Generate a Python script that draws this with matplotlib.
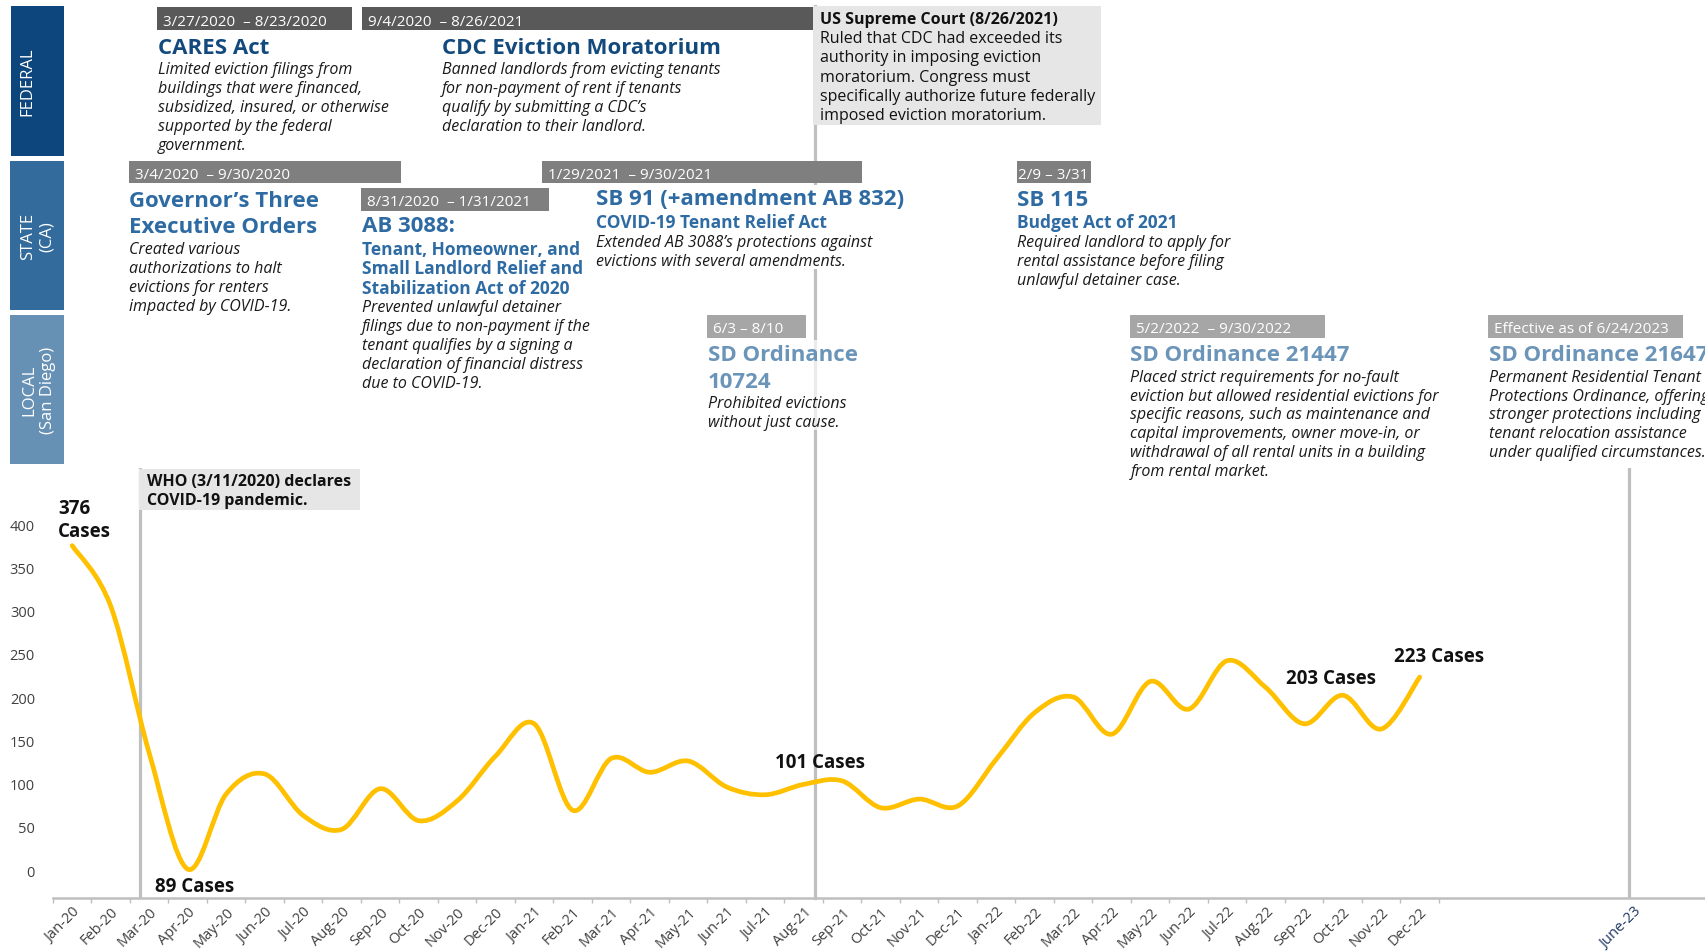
import numpy as np
import matplotlib.pyplot as plt
from matplotlib.path import Path
from matplotlib.patches import PathPatch, Rectangle
from matplotlib.transforms import offset_copy

plt.rcParams['font.family'] = ['Open Sans', 'DejaVu Sans']

# --- data -----------------------------------------------------------------
months = ['Jan-20', 'Feb-20', 'Mar-20', 'Apr-20', 'May-20', 'Jun-20',
          'Jul-20', 'Aug-20', 'Sep-20', 'Oct-20', 'Nov-20', 'Dec-20',
          'Jan-21', 'Feb-21', 'Mar-21', 'Apr-21', 'May-21', 'Jun-21',
          'Jul-21', 'Aug-21', 'Sep-21', 'Oct-21', 'Nov-21', 'Dec-21',
          'Jan-22', 'Feb-22', 'Mar-22', 'Apr-22', 'May-22', 'Jun-22',
          'Jul-22', 'Aug-22', 'Sep-22', 'Oct-22', 'Nov-22', 'Dec-22']
cases = [375, 305, 135, 1, 88, 111, 63, 47, 94, 57, 80, 132,
         169, 69, 129, 113, 126, 96, 87, 99, 103, 72, 82, 74,
         128, 182, 200, 157, 218, 186, 242, 211, 169, 202, 163, 223]
yticks = [0, 50, 100, 150, 200, 250, 300, 350, 400]

# event positions on the month axis (month index, Jan-20 = 0)
who_pos = 1.75        # 3/11/2020
scotus_pos = 19.28    # 8/26/2021
jun23_pos = 40.43     # 6/2023 ordinance
jun23_label = 'June-23'
jun23_label_pos = 40.55

callout_text = ['376\nCases', '89 Cases', '101 Cases', '203 Cases', '223 Cases']
callout_x = [-0.37, 2.15, 18.26, 31.52, 34.34]
callout_y = [386, -24, 119, 216, 242]

W, H = 1705, 953
fig = plt.figure(figsize=(W / 100, H / 100), dpi=100)

# --- chart ------------------------------------------------------------------
ax_top, ax_bot, ax_left = 469.3, 899.3, 53
ax = fig.add_axes([ax_left / W, 1 - ax_bot / H, 1 - ax_left / W,
                   (ax_bot - ax_top) / H])
ax.set_facecolor('none')
ax.set_zorder(1)
ax.set_xlim(-0.5, 42.41)
ax.set_ylim(-32.7, 464.4)

x = np.arange(len(cases))
pts = np.column_stack([x, cases]).astype(float)
verts, codes = [pts[0]], [Path.MOVETO]
n = len(pts)
for i in range(n - 1):
    p0, p1 = pts[max(i - 1, 0)], pts[i]
    p2, p3 = pts[i + 1], pts[min(i + 2, n - 1)]
    verts += [p1 + (p2 - p0) / 6, p2 - (p3 - p1) / 6, p2]
    codes += [Path.CURVE4] * 3
ax.add_patch(PathPatch(Path(verts, codes), fill=False, edgecolor='#ffc000',
                       lw=3.4, capstyle='round', joinstyle='round', zorder=3))

gray = '#bfbfbf'
ax.axvline(who_pos, 0, 1, color=gray, lw=2.3, zorder=2)
ax.axvline(jun23_pos, 0, 1, color=gray, lw=2.3, zorder=2)
ax.axvline(scotus_pos, 0, (ax_bot - 6.7) / (ax_bot - ax_top), color=gray,
           lw=2.3, zorder=2, clip_on=False)

for txt, cx, cy in zip(callout_text, callout_x, callout_y):
    lines = txt.split('\n')
    for j, line in enumerate(lines):
        tr = offset_copy(ax.transData, fig=fig, y=22.7 * (len(lines) - 1 - j),
                         units='dots')
        ax.text(cx, cy, line, transform=tr, fontsize=13.5, fontweight='bold',
                color='#111111', va='baseline', ha='left', zorder=4)

for s in ['left', 'top', 'right']:
    ax.spines[s].set_visible(False)
ax.spines['bottom'].set_color(gray)
ax.spines['bottom'].set_linewidth(1.8)

ax.set_yticks(yticks)
ax.tick_params(axis='y', length=0, pad=13, labelsize=10.5, labelcolor='#404040')
ax.set_xticks(np.arange(-0.5, len(months), 1))
ax.tick_params(axis='x', which='major', length=3.4, width=1, color=gray,
               labelbottom=False)
ax.set_xticks(list(x) + [jun23_label_pos], months + [jun23_label], minor=True)
ax.tick_params(axis='x', which='minor', length=0, pad=4, labelsize=10.5,
               labelcolor='#404040')
for lbl in ax.get_xticklabels(minor=True):
    lbl.set_rotation(45)
    lbl.set_ha('right')
    lbl.set_rotation_mode('anchor')
ax.get_xticklabels(minor=True)[-1].set_color('#1f3864')

# --- policy panels (pixel layout overlay) ----------------------------------
ov = fig.add_axes([0, 0, 1, 1])
ov.set_xlim(0, W)
ov.set_ylim(H, 0)
ov.axis('off')
ov.set_zorder(3)

fed_c, state_c, local_c = '#134a7e', '#2e6ba3', '#6b94b9'
desc_c = '#1a1a1a'


def rect(x0, y0, x1, y1, color, alpha=1.0):
    ov.add_patch(Rectangle((x0, y0), x1 - x0, y1 - y0, facecolor=color,
                           edgecolor='none', alpha=alpha, zorder=1))


def block(x0, y0, text, size, color=desc_c, weight='normal', style='normal',
          step=19.1):
    for i, line in enumerate(text.split('\n')):
        ov.text(x0, y0 + i * step, line, fontsize=size, color=color,
                fontweight=weight, fontstyle=style, va='baseline', ha='left',
                zorder=3)


def bar(x0, x1, y0, y1, label, color, tx=None):
    rect(x0, y0, x1, y1, color)
    ov.text(x0 + 6 if tx is None else tx, y1 - 5.2, label, fontsize=11,
            color='white', va='baseline', ha='left', zorder=3)


# level banners
rect(11, 6.7, 64, 156.7, '#0d457d')
rect(10, 162.3, 64, 310.7, '#336b9c')
rect(10, 316.2, 64, 464.5, '#6790b5')
ov.text(27.5, 81.7, 'FEDERAL', rotation=90, ha='center', va='center',
        color='white', fontsize=12)
ov.text(37.5, 236.5, 'STATE\n(CA)', rotation=90, ha='center', va='center',
        multialignment='center', color='white', fontsize=12)
ov.text(38.5, 390, 'LOCAL\n(San Diego)', rotation=90, ha='center',
        va='center', multialignment='center', color='white', fontsize=12)

# masks where the Supreme Court line passes behind text
rect(800, 186, 830, 270, 'white')
rect(800, 341, 830, 431, 'white', alpha=0.7)

# federal
bar(157, 352, 8.3, 30.7, '3/27/2020  \u2013 8/23/2020', '#595959')
bar(362, 812.7, 8.3, 30.7, '9/4/2020  \u2013 8/26/2021', '#595959')
block(158.5, 54, 'CARES Act', 16, fed_c, 'bold')
block(158, 74, 'Limited eviction filings from\nbuildings that were financed,\n'
      'subsidized, insured, or otherwise\nsupported by the federal\n'
      'government.', 11.5, style='italic')
block(441.7, 54, 'CDC Eviction Moratorium', 16, fed_c, 'bold')
block(441.7, 74, 'Banned landlords from evicting tenants\nfor non-payment of '
      'rent if tenants\nqualify by submitting a CDC\u2019s\ndeclaration to '
      'their landlord.', 11.5, style='italic')

rect(813, 6.7, 1101, 126, '#e7e6e6')
block(820, 24, 'US Supreme Court (8/26/2021)', 11.5, '#111111', 'bold')
block(820, 43.3, 'Ruled that CDC had exceeded its\nauthority in imposing '
      'eviction\nmoratorium. Congress must\nspecifically authorize future '
      'federally\nimposed eviction moratorium.', 11.5, '#111111', step=19.2)

# state
bar(129, 401, 162.3, 184.3, '3/4/2020  \u2013 9/30/2020', '#7f7f7f')
bar(361, 549, 189.3, 211.7, '8/31/2020  \u2013 1/31/2021', '#7f7f7f')
bar(541.5, 861.5, 162.3, 184.3, '1/29/2021  \u2013 9/30/2021', '#7f7f7f')
bar(1017, 1090.7, 162.3, 184.3, '2/9 \u2013 3/31', '#7f7f7f', tx=1017.5)

block(129.3, 206.7, 'Governor\u2019s Three\nExecutive Orders', 16, state_c,
      'bold', step=26.6)
block(129.3, 254, 'Created various\nauthorizations to halt\nevictions for '
      'renters\nimpacted by COVID-19.', 11.5, style='italic')
block(361.7, 231.7, 'AB 3088:', 16, state_c, 'bold')
block(361.7, 255, 'Tenant, Homeowner, and\nSmall Landlord Relief and\n'
      'Stabilization Act of 2020', 12.5, state_c, 'bold', step=19.5)
block(361.7, 311.7, 'Prevented unlawful detainer\nfilings due to non-payment '
      'if the\ntenant qualifies by a signing a\ndeclaration of financial '
      'distress\ndue to COVID-19.', 11.5, style='italic')
block(596, 205, 'SB 91 (+amendment AB 832)', 16, state_c, 'bold')
block(596, 227.7, 'COVID-19 Tenant Relief Act', 12.5, state_c, 'bold')
block(596, 246.7, 'Extended AB 3088\u2019s protections against\nevictions with '
      'several amendments.', 11.5, style='italic')
block(1017.3, 206, 'SB 115', 16, state_c, 'bold')
block(1017.3, 227.7, 'Budget Act of 2021', 12.5, state_c, 'bold')
block(1017.3, 246.7, 'Required landlord to apply for\nrental assistance before '
      'filing\nunlawful detainer case.', 11.5, style='italic')

# local
bar(707.3, 806, 316, 338.7, '6/3 \u2013 8/10', '#a6a6a6')
bar(1130, 1324.5, 316, 338.7, '5/2/2022  \u2013 9/30/2022', '#a6a6a6')
bar(1488, 1683, 316, 338.7, 'Effective as of 6/24/2023', '#a6a6a6')

block(708, 361, 'SD Ordinance\n10724', 16, local_c, 'bold', step=26.7)
block(708, 407.7, 'Prohibited evictions\nwithout just cause.', 11.5,
      style='italic')
block(1130.4, 361, 'SD Ordinance 21447', 16, local_c, 'bold')
block(1130.4, 381.7, 'Placed strict requirements for no-fault\neviction but '
      'allowed residential evictions for\nspecific reasons, such as '
      'maintenance and\ncapital improvements, owner move-in, or\nwithdrawal '
      'of all rental units in a building\nfrom rental market.', 11.5,
      style='italic', step=18.9)
block(1488.7, 361, 'SD Ordinance 21647', 16, local_c, 'bold')
block(1488.7, 381.7, 'Permanent Residential Tenant\nProtections Ordinance, '
      'offering\nstronger protections including\ntenant relocation '
      'assistance\nunder qualified circumstances.', 11.5, style='italic',
      step=18.9)

# WHO note
rect(139, 470, 359.7, 510.7, '#e7e6e6')
block(147, 486, 'WHO (3/11/2020) declares\nCOVID-19 pandemic.', 11.5,
      '#111111', 'bold', step=19)

fig.savefig('out.png', dpi=100)
